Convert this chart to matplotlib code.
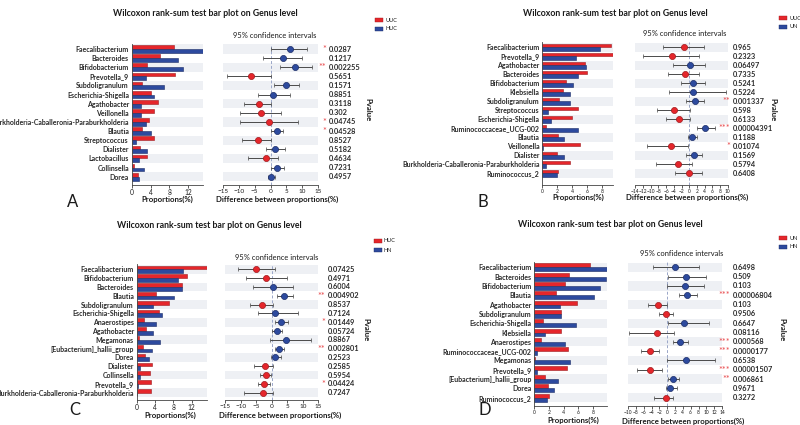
import matplotlib
matplotlib.use("Agg")
import matplotlib.pyplot as plt
from matplotlib.patches import Rectangle

plt.rcParams['font.family'] = ['Liberation Sans Narrow', 'Lato', 'DejaVu Sans']

# ---------------- DATA ----------------
A_groups = ["UUC", "HUC"]
A_genera = ["Faecalibacterium", "Bacteroides", "Bifidobacterium", "Prevotella_9", "Subdoligranulum",
            "Escherichia-Shigella", "Agathobacter", "Veillonella",
            "Burkholderia-Caballeronia-Paraburkholderia", "Blautia", "Streptococcus", "Dialister",
            "Lactobacillus", "Collinsella", "Dorea"]
A_red = [9.0, 5.9, 3.2, 9.2, 2.1, 4.0, 5.6, 4.8, 3.6, 2.1, 4.7, 1.8, 3.2, 0.56, 1.4]
A_blue = [15.0, 9.8, 10.8, 3.0, 6.9, 4.7, 1.9, 1.9, 3.0, 4.1, 0.85, 3.2, 1.55, 2.6, 1.6]
A_diff = [6.0, 4.0, 7.7, -6.2, 4.75, 0.8, -3.6, -2.9, -0.5, 2.0, -3.9, 1.4, -1.5, 2.0, 0.3]
A_lo = [0.0, -2.4, 2.9, -13.6, 1.1, -3.8, -8.2, -9.5, -9.5, 0.3, -9.0, -1.3, -7.1, 0.3, -0.9]
A_hi = [11.5, 10.0, 13.1, 0.0, 8.8, 6.0, 0.0, 3.3, 8.5, 3.9, 0.0, 4.5, 2.2, 4.1, 1.4]
A_p = ["0.0287", "0.1217", "0.002255", "0.5651", "0.1571", "0.8851", "0.3118", "0.302", "0.04745",
       "0.04528", "0.8527", "0.5182", "0.4634", "0.7231", "0.4957"]
A_stars = ["*", "", "**", "", "", "", "", "", "*", "*", "", "", "", "", ""]

B_groups = ["UUC", "UN"]
B_genera = ["Faecalibacterium", "Prevotella_9", "Agathobacter", "Bacteroides", "Bifidobacterium",
            "Klebsiella", "Subdoligranulum", "Streptococcus", "Escherichia-Shigella",
            "Ruminococcaceae_UCG-002", "Blautia", "Veillonella", "Dialister",
            "Burkholderia-Caballeronia-Paraburkholderia", "Ruminococcus_2"]
B_red = [9.2, 9.4, 5.7, 6.0, 3.2, 2.7, 2.2, 4.8, 4.0, 0.45, 2.1, 5.0, 1.9, 3.7, 2.1]
B_blue = [7.7, 4.5, 5.8, 4.7, 4.1, 3.7, 3.7, 0.7, 1.2, 4.7, 2.9, 0.1, 2.9, 0.5, 2.0]
B_diff = [-1.4, -4.5, 0.2, -1.2, 0.9, 1.1, 1.5, -4.0, -2.75, 4.1, 0.8, -4.6, 1.2, -3.0, -0.1]
B_lo = [-6.7, -11.9, -4.3, -5.5, -2.1, -5.2, -0.75, -8.3, -6.0, 1.95, -0.2, -10.9, -0.75, -8.7, -3.8]
B_hi = [3.9, 2.5, 4.1, 2.6, 4.1, 9.5, 3.8, 0.1, 0.2, 6.8, 2.0, -0.3, 3.2, 0.8, 3.4]
B_p = ["0.965", "0.2323", "0.06497", "0.7335", "0.5241", "0.5224", "0.001337", "0.598", "0.6133",
       "0.00004391", "0.1188", "0.01074", "0.1569", "0.5794", "0.6408"]
B_stars = ["", "", "", "", "", "", "**", "", "", "***", "", "*", "", "", ""]

C_groups = ["HUC", "HN"]
C_genera = ["Faecalibacterium", "Bifidobacterium", "Bacteroides", "Blautia", "Subdoligranulum",
            "Escherichia-Shigella", "Anaerostipes", "Agathobacter", "Megamonas",
            "[Eubacterium]_hallii_group", "Dorea", "Dialister", "Collinsella", "Prevotella_9",
            "Burkholderia-Caballeronia-Paraburkholderia"]
C_red = [15.3, 11.0, 9.9, 4.2, 7.0, 4.8, 1.5, 2.0, 0.4, 1.3, 1.8, 3.3, 2.8, 3.1, 3.1]
C_blue = [10.0, 9.0, 9.9, 8.1, 3.6, 5.6, 4.2, 3.6, 5.0, 3.3, 2.6, 0.8, 0.8, 0.2, 0.05]
C_diff = [-5.1, -1.9, 0.3, 4.0, -3.2, 1.0, 3.0, 1.8, 4.6, 2.2, 1.0, -2.3, -1.8, -2.5, -3.0]
C_lo = [-10.9, -8.4, -6.0, 1.6, -6.9, -4.6, 1.0, 0.05, -0.6, 0.9, -0.3, -5.8, -3.9, -4.6, -9.1]
C_hi = [1.0, 4.9, 6.7, 6.8, 0.4, 8.4, 5.3, 3.4, 12.7, 3.9, 3.0, 0.3, -0.2, -0.7, 0.3]
C_p = ["0.07425", "0.4971", "0.6004", "0.004902", "0.8537", "0.7124", "0.01449", "0.05724", "0.8867",
       "0.002801", "0.2523", "0.2585", "0.5954", "0.04424", "0.7247"]
C_stars = ["", "", "", "**", "", "", "*", "", "", "**", "", "", "", "*", ""]

D_groups = ["UN", "HN"]
D_genera = ["Faecalibacterium", "Bacteroides", "Bifidobacterium", "Blautia", "Agathobacter",
            "Subdoligranulum", "Escherichia-Shigella", "Klebsiella", "Anaerostipes",
            "Ruminococcaceae_UCG-002", "Megamonas", "Prevotella_9", "[Eubacterium]_hallii_group",
            "Dorea", "Ruminococcus_2"]
D_red = [7.6, 4.7, 4.2, 2.9, 5.8, 3.7, 1.2, 3.7, 0.9, 4.6, 0.05, 4.5, 1.5, 1.8, 2.0]
D_blue = [9.9, 9.8, 9.0, 8.2, 3.5, 3.6, 5.7, 1.4, 4.2, 0.4, 4.8, 0.3, 3.2, 2.7, 1.7]
D_diff = [2.1, 4.9, 4.6, 5.1, -2.3, -0.3, 4.3, -2.6, 3.2, -4.3, 4.7, -4.3, 1.5, 0.85, -0.4]
D_lo = [-3.5, 0.3, 0.0, 2.9, -4.9, -2.0, 0.1, -9.8, 1.4, -6.7, 0.0, -7.7, 0.2, -0.4, -3.3]
D_hi = [8.1, 9.9, 9.4, 7.6, 0.0, 1.6, 10.6, 1.8, 5.4, -2.0, 12.3, -1.3, 2.9, 2.4, 1.6]
D_p = ["0.6498", "0.509", "0.103", "0.00006804", "0.103", "0.9506", "0.6647", "0.08116", "0.000568",
       "0.0000177", "0.6538", "0.00001507", "0.006861", "0.9671", "0.3272"]
D_stars = ["", "", "", "***", "", "", "", "", "***", "***", "", "***", "**", "", ""]

panel_letters = ["A", "B", "C", "D"]
title_text = "Wilcoxon rank-sum test bar plot on Genus level"

# ---------------- STYLE / LAYOUT ----------------
W, H = 800, 425
RED, RED_E = "#E5262B", "#9E1B1E"
BLUE, BLUE_E = "#2D4A9E", "#1B2C66"
BAND = "#EEF0F4"
TXT = "#1A1A1A"

fig = plt.figure(figsize=(W / 100, H / 100), dpi=100)


def add_ax(left, top, right, bottom):
    return fig.add_axes([left / W, 1 - bottom / H, (right - left) / W, (bottom - top) / H])


def ftext(x, y, s, **kw):
    fig.text(x / W, 1 - y / H, s, **kw)


layouts = [
    dict(bar=(131.7, 202.5), bar_xlim=(0, 15), bar_ticks=[0, 4, 8, 12], bar_fs=4.8,
         ci=(222.7, 318.3), ci_xlim=(-15, 15), ci_ticks=list(range(-15, 16, 5)), ci_fs=4.6,
         rows=(49, 176.7), bottom=185, pval_x=329, pvlab=(368, 110), legend=(375, 20),
         title=(205, 14), ci_title=(275, 35), letter=(73, 202), prop=(167, 199), diff=(277, 199)),
    dict(bar=(542.3, 612.8), bar_xlim=(0, 9.4), bar_ticks=[0, 2, 4, 6, 8], bar_fs=3.6,
         ci=(635.3, 727.7), ci_xlim=(-14, 10), ci_ticks=list(range(-14, 11, 2)), ci_fs=3.5,
         rows=(47.3, 173.3), bottom=185, pval_x=733, pvlab=(773, 110), legend=(779, 18),
         title=(615, 14), ci_title=(685, 34), letter=(483, 202), prop=(578, 197), diff=(687, 197)),
    dict(bar=(136.7, 206.8), bar_xlim=(0, 15.3), bar_ticks=[0, 4, 8, 12], bar_fs=4.8,
         ci=(225.3, 318.3), ci_xlim=(-15, 15), ci_ticks=list(range(-15, 16, 5)), ci_fs=4.6,
         rows=(269.3, 392.7), bottom=400, pval_x=328, pvlab=(366, 330), legend=(374, 241),
         title=(209, 226), ci_title=(277, 257), letter=(75, 410), prop=(170, 415), diff=(280, 415)),
    dict(bar=(534.3, 606.9), bar_xlim=(0, 9.9), bar_ticks=[0, 2, 4, 6, 8], bar_fs=3.6,
         ci=(628, 722), ci_xlim=(-10, 14), ci_ticks=list(range(-10, 15, 2)), ci_fs=3.5,
         rows=(267.3, 397.7), bottom=406, pval_x=733, pvlab=(782, 330), legend=(779, 238),
         title=(610, 224), ci_title=(682, 253), letter=(485, 410), prop=(573, 420), diff=(683, 421)),
]

panels = [
    (A_groups, A_genera, A_red, A_blue, A_diff, A_lo, A_hi, A_p, A_stars),
    (B_groups, B_genera, B_red, B_blue, B_diff, B_lo, B_hi, B_p, B_stars),
    (C_groups, C_genera, C_red, C_blue, C_diff, C_lo, C_hi, C_p, C_stars),
    (D_groups, D_genera, D_red, D_blue, D_diff, D_lo, D_hi, D_p, D_stars),
]

for letter, L, (groups, genera, red, blue, diff, lo, hi, pv, stars) in zip(panel_letters, layouts, panels):
    n = len(genera)
    r0, rN = L["rows"]
    sp = (rN - r0) / (n - 1)
    top = r0 - 0.6 * sp
    bot = L["bottom"]
    ylim_bottom = (n - 1) + (bot - rN) / sp
    ys = list(range(n))

    # ---- bar axes ----
    ax = add_ax(L["bar"][0], top, L["bar"][1], bot)
    for i in ys:
        if i % 2 == 0:
            ax.axhspan(i - 0.5, i + 0.5, color=BAND, lw=0, zorder=0)
    ax.barh([y - 0.21 for y in ys], red, height=0.42, color=RED, edgecolor=RED_E, lw=0.4, zorder=2)
    ax.barh([y + 0.21 for y in ys], blue, height=0.42, color=BLUE, edgecolor=BLUE_E, lw=0.4, zorder=2)
    ax.set_xlim(*L["bar_xlim"])
    ax.set_ylim(ylim_bottom, -0.6)
    ax.set_yticks(ys)
    ax.set_yticklabels(genera, fontsize=5.0, fontweight="bold", color="#2A2A2A")
    ax.set_xticks(L["bar_ticks"])
    ax.tick_params(axis="x", labelsize=L["bar_fs"], length=2, width=0.5, pad=1, colors=TXT)
    ax.tick_params(axis="y", length=0, pad=2)
    for s in ["top", "right"]:
        ax.spines[s].set_visible(False)
    for s in ["left", "bottom"]:
        ax.spines[s].set_linewidth(0.6)
        ax.spines[s].set_color("#444444")

    # ---- CI axes ----
    cx = add_ax(L["ci"][0], top, L["ci"][1], bot)
    for i in ys:
        if i % 2 == 0:
            cx.axhspan(i - 0.5, i + 0.5, color=BAND, lw=0, zorder=0)
    cx.axvline(0, color="#9AA6C8", ls=(0, (3, 2)), lw=0.7, zorder=1)
    for i in ys:
        col, ec = (BLUE, BLUE_E) if diff[i] > 0 else (RED, RED_E)
        cx.errorbar(diff[i], i, xerr=[[diff[i] - lo[i]], [hi[i] - diff[i]]], fmt="o",
                    color="#4A4A4A", ecolor="#4A4A4A", elinewidth=0.7, capsize=1.6, capthick=0.6,
                    markersize=4.4, markerfacecolor=col, markeredgecolor=ec, markeredgewidth=0.5,
                    zorder=3)
    cx.set_xlim(*L["ci_xlim"])
    cx.set_ylim(ylim_bottom, -0.6)
    cx.set_yticks([])
    cx.set_xticks(L["ci_ticks"])
    cx.tick_params(axis="x", labelsize=L["ci_fs"], length=2, width=0.5, pad=1, colors=TXT)
    for s in ["top", "right", "left"]:
        cx.spines[s].set_visible(False)
    cx.spines["bottom"].set_linewidth(0.6)
    cx.spines["bottom"].set_color("#444444")

    # p-values and stars
    for i in ys:
        y_px = r0 + i * sp
        ftext(L["pval_x"], y_px, pv[i], fontsize=5.3, fontweight="bold", color="#2A2A2A",
              ha="left", va="center")
        if stars[i]:
            ftext(L["pval_x"] - 2.5, y_px + 0.5, stars[i], fontsize=6.5, color="#E8484B",
                  ha="right", va="center")

    ftext(*L["pvlab"], "Pvalue", fontsize=5.6, fontweight="bold", color=TXT, rotation=-90,
          ha="center", va="center")

    # legend
    lx, ly = L["legend"]
    for k, (g, c, e) in enumerate(zip(groups, [RED, BLUE], [RED_E, BLUE_E])):
        yy = ly + k * 9
        fig.patches.append(Rectangle((lx / W, 1 - (yy + 2) / H), 8 / W, 4 / H, facecolor=c,
                                     edgecolor=e, lw=0.3, transform=fig.transFigure, figure=fig))
        ftext(lx + 10, yy, g, fontsize=4.0, color=TXT, ha="left", va="center")

    ftext(*L["title"], title_text, fontsize=6.3, fontweight="bold", color=TXT, ha="center", va="center")
    ftext(*L["ci_title"], "95% confidence intervals", fontsize=5.4, color=TXT, ha="center", va="center")
    ftext(*L["letter"], letter, fontsize=12, color=TXT, ha="center", va="center")
    ftext(*L["prop"], "Proportions(%)", fontsize=5.6, fontweight="bold", color=TXT, ha="center", va="center")
    ftext(*L["diff"], "Difference between proportions(%)", fontsize=5.6, fontweight="bold", color=TXT,
          ha="center", va="center")

fig.savefig("out.png", dpi=100)
